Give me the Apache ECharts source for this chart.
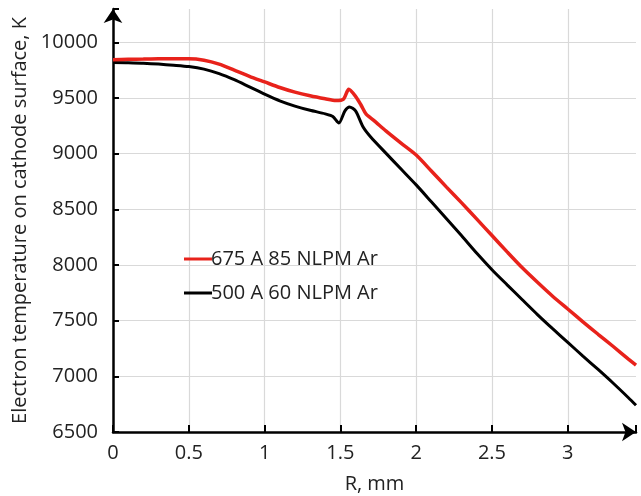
<!DOCTYPE html>
<html><head><meta charset="utf-8">
<script src="https://cdn.jsdelivr.net/npm/echarts@6/dist/echarts.min.js"></script>
<style>html,body{margin:0;padding:0;background:#fff}#c{width:641px;height:496px}</style>
</head><body><div id="c"></div>
<script>
const seriesNames = ['675 A 85 NLPM Ar', '500 A 60 NLPM Ar'];
const redR = [0,0.1,0.2,0.3,0.4,0.5,0.6,0.7,0.8,0.9,1.0,1.1,1.2,1.3,1.4,1.47,1.52,1.555,1.6,1.635,1.67,1.72,1.8,1.9,2.0,2.1,2.2,2.3,2.4,2.5,2.6,2.7,2.8,2.9,3.0,3.1,3.2,3.3,3.4,3.45];
const redT = [9845,9848,9850,9852,9853,9853,9840,9805,9750,9695,9645,9595,9553,9520,9493,9477,9490,9578,9515,9440,9355,9300,9205,9095,8988,8845,8700,8558,8412,8265,8118,7975,7845,7720,7605,7490,7378,7268,7155,7100];
const blackR = [0,0.1,0.2,0.3,0.4,0.5,0.6,0.7,0.8,0.9,1.0,1.1,1.2,1.3,1.4,1.45,1.49,1.53,1.56,1.6,1.65,1.7,1.8,1.9,2.0,2.1,2.2,2.3,2.4,2.5,2.6,2.7,2.8,2.9,3.0,3.1,3.2,3.3,3.4,3.45];
const blackT = [9820,9818,9812,9805,9795,9783,9760,9720,9665,9600,9535,9475,9428,9390,9358,9335,9275,9385,9420,9385,9240,9150,9005,8862,8720,8568,8415,8262,8105,7958,7822,7688,7555,7428,7305,7182,7062,6938,6808,6740];
const xTicks = [0,0.5,1,1.5,2,2.5,3];
const yTicks = [6500,7000,7500,8000,8500,9000,9500,10000];

const font = '"Open Sans", sans-serif';
const chart = echarts.init(document.getElementById('c'), null, {renderer:'canvas'});
chart.setOption({
  animation:false,
  backgroundColor:'#fff',
  grid:{left:113, right:5, top:9, bottom:64, containLabel:false, outerBoundsMode:'none'},
  legend:{
    orient:'vertical', left:179, top:244, itemGap:14, itemWidth:28, itemHeight:3,
    icon:'rect',
    textStyle:{fontFamily:font, fontSize:20, color:'#222', padding:[0,0,0,-6]},
    data:seriesNames
  },
  xAxis:{
    type:'value', min:0, max:3.45, interval:0.5,
    name:'R, mm', nameLocation:'middle', nameGap:42,
    nameTextStyle:{fontFamily:font, fontSize:20, color:'#222'},
    axisLine:{show:true, onZero:false, symbol:['none','arrow'], symbolSize:[14,14], lineStyle:{color:'#000', width:2.5}},
    axisTick:{show:true, inside:true, length:7, lineStyle:{color:'#000', width:2}},
    axisLabel:{fontFamily:font, fontSize:20, color:'#222', margin:11, customValues:xTicks, formatter:v=>String(v)},
    splitLine:{show:true, showMinLine:false, showMaxLine:false, lineStyle:{color:'#d9d9d9', width:1.2}}
  },
  yAxis:{
    type:'value', min:6500, max:10300, interval:500,
    name:'Electron temperature on cathode surface, K', nameLocation:'middle', nameGap:82,
    nameTextStyle:{fontFamily:font, fontSize:20, color:'#222'},
    axisLine:{show:true, onZero:false, symbol:['none','arrow'], symbolSize:[14,14], lineStyle:{color:'#000', width:2.5}},
    axisTick:{show:true, inside:true, length:6, lineStyle:{color:'#000', width:2}},
    axisLabel:{fontFamily:font, fontSize:20, color:'#222', margin:15, customValues:yTicks, formatter:v=>String(v)},
    splitLine:{show:true, showMinLine:false, showMaxLine:false, lineStyle:{color:'#d9d9d9', width:1.2}}
  },
  series:[
    {name:seriesNames[0], type:'line', showSymbol:false, smooth:0.25, data:redR.map((r,i)=>[r,redT[i]]),
     lineStyle:{color:'#e8221b', width:3.5}, itemStyle:{color:'#e8221b'}, z:3},
    {name:seriesNames[1], type:'line', showSymbol:false, smooth:0.25, data:blackR.map((r,i)=>[r,blackT[i]]),
     lineStyle:{color:'#000', width:3}, itemStyle:{color:'#000'}, z:2}
  ]
});
</script></body></html>
